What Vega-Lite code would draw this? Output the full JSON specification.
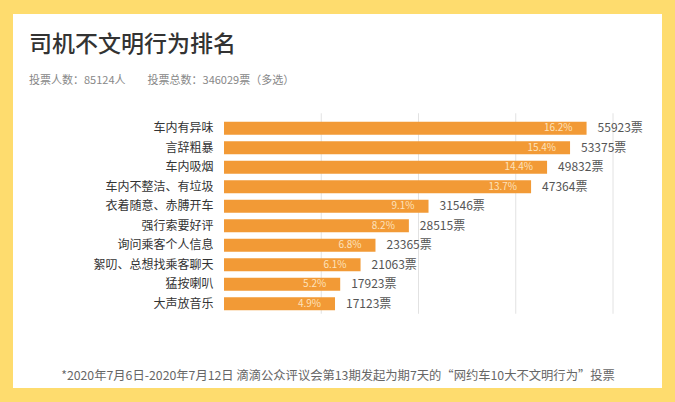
{
  "$schema": "https://vega.github.io/schema/vega-lite/v6.json",
  "width": 649,
  "height": 374,
  "autosize": "none",
  "padding": {"left": 13, "top": 14, "right": 13, "bottom": 14},
  "background": "#FEDC6E",
  "config": {
    "view": {"fill": "#FFFFFF", "stroke": null},
    "font": "Noto Sans CJK SC"
  },
  "title": {
    "text": "司机不文明行为排名",
    "subtitle": "投票人数：85124人　　投票总数：346029票（多选）",
    "anchor": "start",
    "frame": "group",
    "dx": 16,
    "offset": -72,
    "fontSize": 23,
    "fontWeight": 500,
    "color": "#333333",
    "subtitleFontSize": 11,
    "subtitleColor": "#888888",
    "subtitlePadding": 18
  },
  "datasets": {
    "bars": [
      {"item": "车内有异味", "votes": 55923, "pct": "16.2%", "label": "55923票"},
      {"item": "言辞粗暴", "votes": 53375, "pct": "15.4%", "label": "53375票"},
      {"item": "车内吸烟", "votes": 49832, "pct": "14.4%", "label": "49832票"},
      {"item": "车内不整洁、有垃圾", "votes": 47364, "pct": "13.7%", "label": "47364票"},
      {"item": "衣着随意、赤膊开车", "votes": 31546, "pct": "9.1%", "label": "31546票"},
      {"item": "强行索要好评", "votes": 28515, "pct": "8.2%", "label": "28515票"},
      {"item": "询问乘客个人信息", "votes": 23365, "pct": "6.8%", "label": "23365票"},
      {"item": "絮叨、总想找乘客聊天", "votes": 21063, "pct": "6.1%", "label": "21063票"},
      {"item": "猛按喇叭", "votes": 17923, "pct": "5.2%", "label": "17923票"},
      {"item": "大声放音乐", "votes": 17123, "pct": "4.9%", "label": "17123票"}
    ],
    "grid": [{"v": 15000}, {"v": 30000}, {"v": 45000}, {"v": 60000}]
  },
  "layer": [
    {
      "data": {"name": "grid"},
      "mark": {"type": "rule", "color": "#E2E2E2", "strokeWidth": 1, "yOffset": -15, "y2Offset": 10},
      "encoding": {
        "x": {"field": "v", "type": "quantitative",
              "scale": {"domain": [0, 60000], "range": [211, 600], "nice": false},
              "axis": {"labels": false, "ticks": false, "domain": false, "grid": false,
                       "title": "*2020年7月6日-2020年7月12日 滴滴公众评议会第13期发起为期7天的“网约车10大不文明行为”投票",
                       "titleFontSize": 12.3, "titleFontWeight": "normal", "titleColor": "#666666",
                       "titleX": 324.5, "titleY": -9, "titleAlign": "center", "titleBaseline": "alphabetic"}},
        "y": {"datum": "车内有异味", "type": "nominal",
              "scale": {"domain": ["车内有异味", "言辞粗暴", "车内吸烟", "车内不整洁、有垃圾", "衣着随意、赤膊开车", "强行索要好评", "询问乘客个人信息", "絮叨、总想找乘客聊天", "猛按喇叭", "大声放音乐"],
                        "range": [104.5, 299.5], "paddingInner": 0.333, "paddingOuter": 0.1667},
              "axis": {"title": null, "offset": -211, "domain": false, "ticks": false, "tickSize": 0,
                       "labelPadding": 11, "labelFontSize": 12, "labelColor": "#333333", "grid": false}},
        "y2": {"datum": "大声放音乐"}
      }
    },
    {
      "data": {"name": "bars"},
      "mark": {"type": "bar", "color": "#F29A36"},
      "encoding": {
        "x": {"field": "votes", "type": "quantitative",
              "scale": {"domain": [0, 60000], "range": [211, 600], "nice": false},
              "axis": {"labels": false, "ticks": false, "domain": false, "grid": false,
                       "title": "*2020年7月6日-2020年7月12日 滴滴公众评议会第13期发起为期7天的“网约车10大不文明行为”投票",
                       "titleFontSize": 12.3, "titleFontWeight": "normal", "titleColor": "#666666",
                       "titleX": 324.5, "titleY": -9, "titleAlign": "center", "titleBaseline": "alphabetic"}},
        "y": {"field": "item", "type": "nominal", "sort": null,
              "scale": {"domain": ["车内有异味", "言辞粗暴", "车内吸烟", "车内不整洁、有垃圾", "衣着随意、赤膊开车", "强行索要好评", "询问乘客个人信息", "絮叨、总想找乘客聊天", "猛按喇叭", "大声放音乐"],
                        "range": [104.5, 299.5], "paddingInner": 0.333, "paddingOuter": 0.1667},
              "axis": {"title": null, "offset": -211, "domain": false, "ticks": false, "tickSize": 0,
                       "labelPadding": 11, "labelFontSize": 12, "labelColor": "#333333", "grid": false}}
      }
    },
    {
      "data": {"name": "bars"},
      "mark": {"type": "text", "align": "right", "baseline": "middle", "dx": -14, "fontSize": 10, "color": "#FDE2BC"},
      "encoding": {
        "x": {"field": "votes", "type": "quantitative",
              "scale": {"domain": [0, 60000], "range": [211, 600], "nice": false},
              "axis": {"labels": false, "ticks": false, "domain": false, "grid": false,
                       "title": "*2020年7月6日-2020年7月12日 滴滴公众评议会第13期发起为期7天的“网约车10大不文明行为”投票",
                       "titleFontSize": 12.3, "titleFontWeight": "normal", "titleColor": "#666666",
                       "titleX": 324.5, "titleY": -9, "titleAlign": "center", "titleBaseline": "alphabetic"}},
        "y": {"field": "item", "type": "nominal", "sort": null,
              "scale": {"domain": ["车内有异味", "言辞粗暴", "车内吸烟", "车内不整洁、有垃圾", "衣着随意、赤膊开车", "强行索要好评", "询问乘客个人信息", "絮叨、总想找乘客聊天", "猛按喇叭", "大声放音乐"],
                        "range": [104.5, 299.5], "paddingInner": 0.333, "paddingOuter": 0.1667},
              "axis": {"title": null, "offset": -211, "domain": false, "ticks": false, "tickSize": 0,
                       "labelPadding": 11, "labelFontSize": 12, "labelColor": "#333333", "grid": false}},
        "text": {"field": "pct"}
      }
    },
    {
      "data": {"name": "bars"},
      "mark": {"type": "text", "align": "left", "baseline": "middle", "dx": 11, "fontSize": 12, "color": "#555555"},
      "encoding": {
        "x": {"field": "votes", "type": "quantitative",
              "scale": {"domain": [0, 60000], "range": [211, 600], "nice": false},
              "axis": {"labels": false, "ticks": false, "domain": false, "grid": false,
                       "title": "*2020年7月6日-2020年7月12日 滴滴公众评议会第13期发起为期7天的“网约车10大不文明行为”投票",
                       "titleFontSize": 12.3, "titleFontWeight": "normal", "titleColor": "#666666",
                       "titleX": 324.5, "titleY": -9, "titleAlign": "center", "titleBaseline": "alphabetic"}},
        "y": {"field": "item", "type": "nominal", "sort": null,
              "scale": {"domain": ["车内有异味", "言辞粗暴", "车内吸烟", "车内不整洁、有垃圾", "衣着随意、赤膊开车", "强行索要好评", "询问乘客个人信息", "絮叨、总想找乘客聊天", "猛按喇叭", "大声放音乐"],
                        "range": [104.5, 299.5], "paddingInner": 0.333, "paddingOuter": 0.1667},
              "axis": {"title": null, "offset": -211, "domain": false, "ticks": false, "tickSize": 0,
                       "labelPadding": 11, "labelFontSize": 12, "labelColor": "#333333", "grid": false}},
        "text": {"field": "label"}
      }
    }
  ]
}
